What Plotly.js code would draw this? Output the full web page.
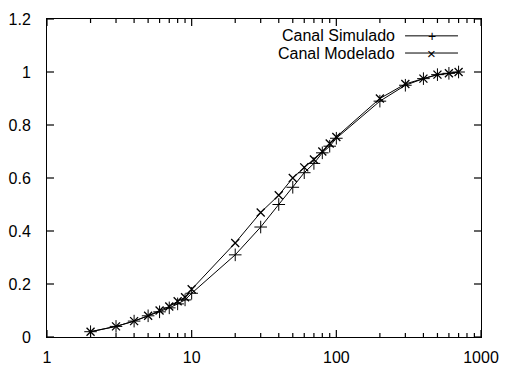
<!DOCTYPE html>
<html>
<head>
<meta charset="utf-8">
<script src="https://cdn.plot.ly/plotly-3.0.1.min.js"></script>
<style>html,body{margin:0;padding:0;background:#fff}#chart{width:506px;height:369px}</style>
</head>
<body>
<div id="chart"></div>
<script>
const xValues = [2,3,4,5,6,7,8,9,10,20,30,40,50,60,70,80,90,100,200,300,400,500,600,700];
const simulado = [0.02,0.04,0.06,0.08,0.095,0.11,0.125,0.14,0.165,0.31,0.415,0.50,0.565,0.62,0.655,0.695,0.72,0.75,0.89,0.95,0.975,0.99,0.995,1.0];
const modelado = [0.02,0.04,0.06,0.08,0.10,0.115,0.135,0.15,0.18,0.355,0.47,0.535,0.60,0.64,0.67,0.70,0.73,0.755,0.90,0.955,0.975,0.99,0.995,1.0];
const seriesNames = ["Canal Simulado", "Canal Modelado"];
const xTickVals = [1,10,100,1000];
const xTickText = ["1","10","100","1000"];
const xMinorVals = [2,3,4,5,6,7,8,9,20,30,40,50,60,70,80,90,200,300,400,500,600,700,800,900];
const yTickVals = [0,0.2,0.4,0.6,0.8,1,1.2];
const yTickText = ["0","0.2","0.4","0.6","0.8","1","1.2"];

const xRange = [0, 3];      // log10 range of the x axis (1 .. 1000)
const yRange = [0, 1.2];
const W = 506, H = 369, M = {l: 47, r: 25, t: 19, b: 32};
const plotW = W - M.l - M.r, plotH = H - M.t - M.b;
const font = {family: "Liberation Sans, Arial, Helvetica, sans-serif", size: 16, color: "#000"};

const traces = [
  {x: xValues, y: simulado, name: seriesNames[0], type: "scatter", mode: "lines+markers",
   line: {color: "#000", width: 1}, marker: {symbol: "cross-thin-open", size: 9, line: {color: "#000", width: 1}},
   showlegend: false},
  {x: xValues, y: modelado, name: seriesNames[1], type: "scatter", mode: "lines+markers",
   line: {color: "#000", width: 1}, marker: {symbol: "x-thin-open", size: 8, line: {color: "#000", width: 1.3}},
   showlegend: false}
];

const annotations = [], shapes = [];

// gnuplot-style inward ticks on all four sides (paper coordinates)
const xPaper = v => (Math.log10(v) - xRange[0]) / (xRange[1] - xRange[0]);
const yPaper = v => (v - yRange[0]) / (yRange[1] - yRange[0]);
function xTick(v, len) {
  const p = xPaper(v), d = len / plotH;
  shapes.push({type: "line", layer: "above", xref: "paper", yref: "paper", x0: p, x1: p, y0: 0, y1: d,
    line: {color: "#000", width: 1.2}});
  shapes.push({type: "line", layer: "above", xref: "paper", yref: "paper", x0: p, x1: p, y0: 1, y1: 1 - d,
    line: {color: "#000", width: 1.2}});
}
xTickVals.forEach(v => xTick(v, 7));
xMinorVals.forEach(v => xTick(v, 4));
yTickVals.forEach(v => {
  const p = yPaper(v), d = 7 / plotW;
  shapes.push({type: "line", layer: "above", xref: "paper", yref: "paper", x0: 0, x1: d, y0: p, y1: p,
    line: {color: "#000", width: 1.2}});
  shapes.push({type: "line", layer: "above", xref: "paper", yref: "paper", x0: 1, x1: 1 - d, y0: p, y1: p,
    line: {color: "#000", width: 1.2}});
});

// legend (gnuplot style: text on left, sample on right)
const legRows = [0.947, 0.893];
const legTextX = 0.806, legLineX0 = 0.825, legLineX1 = 0.947;
const legSyms = ["+", "×"];
seriesNames.forEach((n, i) => {
  annotations.push({xref: "paper", yref: "paper", x: legTextX, y: legRows[i], text: n, showarrow: false,
    xanchor: "right", yanchor: "middle", font: font});
  shapes.push({type: "line", xref: "paper", yref: "paper", x0: legLineX0, x1: legLineX1, y0: legRows[i], y1: legRows[i],
    line: {color: "#000", width: 1}});
  annotations.push({xref: "paper", yref: "paper", x: (legLineX0 + legLineX1) / 2, y: legRows[i], text: legSyms[i], showarrow: false,
    xanchor: "center", yanchor: "middle", font: {family: font.family, size: i === 0 ? 14 : 15, color: "#000"}});
});

const layout = {
  width: W, height: H,
  margin: M,
  paper_bgcolor: "#fff", plot_bgcolor: "#fff",
  font: font,
  xaxis: {type: "log", range: xRange, tickmode: "array", tickvals: xTickVals, ticktext: xTickText,
    ticks: "", showline: true, linecolor: "#000", linewidth: 1, mirror: true,
    showgrid: false, zeroline: false, ticklabelstandoff: 6},
  yaxis: {range: yRange, tickmode: "array", tickvals: yTickVals, ticktext: yTickText,
    ticks: "", showline: true, linecolor: "#000", linewidth: 1, mirror: true,
    showgrid: false, zeroline: false, ticklabelstandoff: 12},
  annotations: annotations, shapes: shapes
};

Plotly.newPlot("chart", traces, layout, {staticPlot: true});
</script>
</body>
</html>
